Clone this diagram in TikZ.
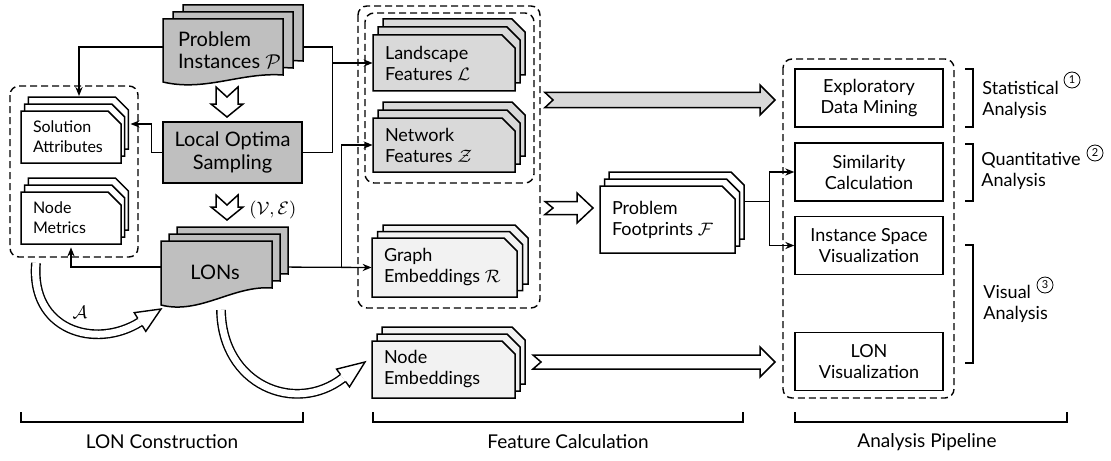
\documentclass[tikz,border=0pt]{standalone}
\usepackage{fontspec}
\setmainfont{Lato}
\usetikzlibrary{arrows.meta,calc,fit,backgrounds}
\definecolor{dkg}{HTML}{BFBFBF}
\definecolor{mdg}{HTML}{D9D9D9}
\definecolor{ltg}{HTML}{F2F2F2}
% chamfered stack: #1 name #2 x1 #3 y1 #4 x2 #5 y2 #6 fill #7 dx #8 dy
\newcommand{\chamstack}[8]{%
  \foreach \k in {2,1,0}{%
    \draw[sheet,fill=#6,shift={({\k*#7},{-\k*#8})}] (#2,#3) -- ({#4-13},#3) -- (#4,{#3+13}) -- (#4,#5) -- (#2,#5) -- cycle;}
  \coordinate (#1-a) at (#2,#3); \coordinate (#1-b) at (#4,#5);
  \node[fit=(#1-a)(#1-b),inner sep=0pt] (#1) {};}
% wavy document stack: #1 name #2 x1 #3 y1 #4 x2 #5 yL #6 yR #7 fill #8 dx #9 dy
\newcommand{\docstack}[9]{%
  \foreach \k in {2,1,0}{%
    \draw[sheet,fill=#7,shift={({\k*#8},{-\k*#9})}] (#2,#3) -- (#4,#3) -- (#4,#6)
      .. controls ({#4-0.35*(#4-#2)},{#6-3}) and ({#2+0.35*(#4-#2)},{#5+10}) .. (#2,#5) -- cycle;}
  \coordinate (#1-a) at (#2,#3); \coordinate (#1-b) at (#4,#5);
  \node[fit=(#1-a)(#1-b),inner sep=0pt] (#1) {};}
% straight hollow notched arrow: #1 opts #2 L #3 w #4 h #5 hl #6 notch
\newcommand{\harrow}[6]{%
  \draw[sheet,#1] (0,-#3) -- ({#2-#5},-#3) -- ({#2-#5},-#4) -- (#2,0) -- ({#2-#5},#4) -- ({#2-#5},#3) -- (0,#3) -- (#6,0) -- cycle;}
% curved hollow arrow: #1 start #2 c1 #3 c2 #4 base #5 tip
\newcommand{\carrow}[5]{%
  \draw[line width=0.7pt, double=white, double distance=3.5pt] #1 .. controls #2 and #3 .. #4;
  \draw[line width=0.7pt, fill=white] ($#4!2.1pt!90:#5$) -- ($#4!5.5pt!90:#5$) -- #5 -- ($#4!5.5pt!-90:#5$) -- ($#4!2.1pt!-90:#5$);}
\begin{document}
\begin{tikzpicture}[x=0.5pt,y=-0.5pt, >={Stealth[length=4.5pt,width=3.6pt]}]
\tikzset{
  sheet/.style={line width=0.75pt},
  grp/.style={draw, line width=0.7pt, dash pattern=on 3.5pt off 2pt, rounded corners=4.5pt},
  conn/.style={line width=0.65pt},
  bigtxt/.style={inner sep=0pt, align=left, font=\fontsize{10}{11}\selectfont},
  ftxt/.style={inner sep=0pt, align=left, font=\fontsize{9}{10.5}\selectfont},
  stxt/.style={inner sep=0pt, align=left, font=\fontsize{8}{10}\selectfont},
  abox/.style={draw, line width=0.75pt, fill=white, minimum width=74pt, minimum height=29pt, inner sep=0pt, align=center, font=\fontsize{9}{10.5}\selectfont},
  ltxt/.style={inner sep=0pt, font=\fontsize{9.5}{11}\selectfont},
  cnum/.style={circle, draw, line width=0.4pt, minimum size=8pt, inner sep=0pt, font=\fontsize{5.5}{6}\selectfont}
}
\useasboundingbox (0,0) rectangle (1111,460);

% dashed groups
\draw[grp] (10,86) rectangle (138,257);
\draw[grp] (358,6) rectangle (540,308);
\draw[grp] (365,13) rectangle (534,183);
\draw[grp] (783,59) rectangle (954,398);

% LON construction
\docstack{pi}{163}{19}{283}{82}{75}{dkg}{10}{7}
\node[bigtxt, anchor=west] (pi-t) at ([xshift=7.5pt]pi.west) {Problem\\Instances $\mathcal{P}$};
\node[draw, sheet, fill=dkg, minimum width=69.5pt, minimum height=30.5pt, inner sep=0pt, align=center, font=\fontsize{10}{11.5}\selectfont] (los) at (232.5,152.5) {Local Optima\\Sampling};
\docstack{lons}{161}{241}{272}{305}{288}{dkg}{8}{7}
\node[bigtxt] (lons-t) at (215,272) {LONs};
\chamstack{solA}{21}{111}{121}{163}{white}{3.7}{7}
\node[stxt, anchor=west] (solA-t) at ([xshift=6pt]solA.west) {Solution\\Attributes};
\chamstack{nm}{21}{192}{121}{244}{white}{3.7}{7}
\node[stxt, anchor=west] (nm-t) at ([xshift=6pt]nm.west) {Node\\Metrics};

% features
\chamstack{land}{373}{35}{515}{91}{mdg}{5}{8}
\node[ftxt, anchor=west] (land-t) at ([xshift=6pt]land.west) {Landscape\\Features $\mathcal{L}$};
\chamstack{net}{373}{118}{515}{172}{mdg}{5}{8}
\node[ftxt, anchor=west] (net-t) at ([xshift=6pt]net.west) {Network\\Features $\mathcal{Z}$};
\chamstack{gemb}{372}{238}{517}{297}{ltg}{5.5}{6.5}
\node[ftxt, anchor=west] (gemb-t) at ([xshift=6pt]gemb.west) {Graph\\Embeddings $\mathcal{R}$};
\chamstack{nemb}{372}{341}{515}{398}{ltg}{5}{7}
\node[ftxt, anchor=west] (nemb-t) at ([xshift=6pt]nemb.west) {Node\\Embeddings};
\chamstack{pf}{600}{186}{735}{253}{white}{4.5}{7}
\node[ftxt, anchor=west] (pf-t) at ([xshift=6pt]pf.west) {Problem\\Footprints $\mathcal{F}$};

% analysis boxes
\node[abox] (eda) at (869,98) {Exploratory\\Data Mining};
\node[abox] (sim) at (869,172) {Similarity\\Calculation};
\node[abox] (isv) at (869,245.5) {Instance Space\\Visualization};
\node[abox] (lonv) at (869,361.5) {LON\\Visualization};

% right side brackets and labels
\draw[conn] (965,69) -- (973,69) -- (973,127) -- (965,127);
\draw[conn] (965,144) -- (973,144) -- (973,201) -- (965,201);
\draw[conn] (965,245) -- (973,245) -- (973,363) -- (965,363);
\node[ftxt, anchor=west] (stat) at (982,100) {Statistical\\Analysis};
\node[ftxt, anchor=west] (quan) at (981,171) {Quantitative\\Analysis};
\node[ftxt, anchor=west] (vis) at (983,304) {Visual\\Analysis};
\node[cnum] (c1) at (1072,80) {1};
\node[cnum] (c2) at (1095,153) {2};
\node[cnum] (c3) at (1045,285) {3};

% bottom brackets
\draw[conn] (21,412) -- (21,422) -- (303,422) -- (303,412);
\draw[conn] (373,412) -- (373,422) -- (743,422) -- (743,412);
\draw[conn] (795,412) -- (795,422) -- (1067,422) -- (1067,412);
\node[ltxt] (lab1) at (162,442) {LON Construction};
\node[ltxt] (lab2) at (568,442) {Feature Calculation};
\node[ltxt] (lab3) at (927,442) {Analysis Pipeline};

% hollow straight arrows
\harrow{fill=white, shift={(227,87)}, rotate=-90}{30}{11}{16}{13}{10}
\harrow{fill=white, shift={(227,195)}, rotate=-90}{25}{11}{16}{13}{10}
\harrow{fill=mdg, shift={(545,100)}}{230}{7.5}{15}{15}{8}
\harrow{fill=white, shift={(545,208)}}{48}{6.5}{15}{16}{8}
\harrow{fill=white, shift={(533,362)}}{242}{7}{15}{15}{8}
\node[ftxt, anchor=west] (ve) at (249,210) {$(\mathcal{V},\mathcal{E})$};

% curved hollow arrows
\carrow{(36,263)}{(30,330)}{(95,350)}{(140,322)}{(161,309)}
\carrow{(221,310)}{(222,385)}{(295,415)}{(343,378)}{(365,362)}
\node[ftxt] (alab) at (80,312) {$\mathcal{A}$};

% connectors
\begin{pgfonlayer}{background}
\draw[conn,->] ([yshift=1.75pt]pi.west) -| ([xshift=4pt,yshift=7.3pt]solA.north);
\coordinate (j1) at ([xshift=-20pt]land.west);
\draw[conn] ([yshift=1.75pt]pi.east) -| (j1);
\draw[conn] (los.east) -| (j1);
\draw[conn,->] (j1) -- (land.west);
\draw[conn,->] (los.west) -- ++(-5.5pt,0) |- ([xshift=4.6pt,yshift=6.5pt]solA.east);
\draw[conn,->] ([yshift=3pt]lons.west) -| ([yshift=-1.5pt]nm.south);
\coordinate (j2) at ([xshift=-15pt]gemb.west);
\draw[conn,->] ([yshift=3pt]lons.east) -- (gemb.west);
\draw[conn,->] (j2) |- (net.west);
\draw[conn] ([yshift=9pt]pf.east) -- ++(17pt,0) coordinate (j3);
\draw[conn,->] (j3) |- (sim.west);
\draw[conn,->] (j3) |- (isv.west);
\end{pgfonlayer}
\end{tikzpicture}
\end{document}
